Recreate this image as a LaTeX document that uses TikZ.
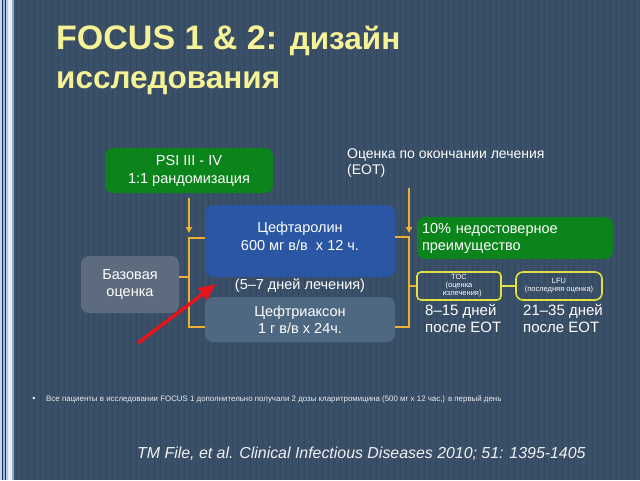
\documentclass[tikz,border=0pt]{standalone}
\usepackage{fontspec}
\setmainfont{Liberation Sans}
\usetikzlibrary{arrows.meta}
\definecolor{bg}{RGB}{58,79,104}
\definecolor{stripe}{RGB}{40,58,80}
\definecolor{ttl}{RGB}{246,242,150}
\definecolor{grn}{RGB}{12,132,28}
\definecolor{blu}{RGB}{42,86,164}
\definecolor{gry}{RGB}{92,108,126}
\definecolor{slt}{RGB}{78,104,130}
\definecolor{org}{RGB}{236,176,52}
\definecolor{ylw}{RGB}{226,226,64}
\definecolor{redarr}{RGB}{230,20,28}
\definecolor{bA}{RGB}{200,212,232}
\definecolor{bB}{RGB}{26,48,96}
\definecolor{bC}{RGB}{160,184,224}
\definecolor{bD}{RGB}{40,50,70}
\definecolor{bE}{RGB}{190,205,230}
\definecolor{bF}{RGB}{232,238,246}
\definecolor{bG}{RGB}{150,168,196}
\tikzset{
  box/.style={rounded corners=8pt, minimum width=#1, text=white, align=center, inner sep=0pt},
  txt/.style={text=white, inner sep=0pt},
  brk/.style={draw=org, line width=1.6pt},
  brkarr/.style={brk, -{Triangle[width=6pt,length=6pt]}},
  outl/.style={draw=ylw, line width=1.6pt, rounded corners=4pt, text=white, align=center, inner sep=0pt, font=\fontsize{7.5}{8}\selectfont},
}
\newcommand{\cyrsz}{\fontsize{31.5}{40}\selectfont}
\begin{document}
\begin{tikzpicture}[x=1pt,y=-1pt]
\useasboundingbox (0,0) rectangle (640,480);
\fill[bg] (0,0) rectangle (640,480);
\foreach \x in {16,22,...,640} \draw[stripe, opacity=0.35, line width=1pt] (\x,0) -- (\x,480);
% left border
\fill[bA] (0,0) rectangle (2,480);
\fill[bB] (2,0) rectangle (3,480);
\fill[bC] (3,0) rectangle (5,480);
\fill[bD] (5,0) rectangle (6,480);
\fill[bE] (6,0) rectangle (8,480);
\fill[bF] (8,0) rectangle (12,480);
\fill[bG] (12,0) rectangle (14,480);
% title
\node[anchor=base west, inner sep=0pt, text=ttl, font=\fontsize{34}{40}\bfseries\selectfont] (t1) at (56,49) {FOCUS 1 \& 2: {\cyrsz дизайн}};
\node[anchor=base west, inner sep=0pt, text=ttl, font=\fontsize{31.5}{40}\bfseries\selectfont] (t2) at (56,88) {исследования};
% boxes
\node[box=168pt, minimum height=45pt, fill=grn, font=\fontsize{14.5}{18}\selectfont] (psi) at (189,170.5) {PSI III - IV\\1:1 рандомизация};
\node[box=190pt, minimum height=72pt, fill=blu] (cef) at (300,241) {};
\node[txt, align=center, font=\fontsize{14.5}{18}\selectfont] (ceft) at (300,236) {Цефтаролин\\600 мг в/в \ х 12 ч.};
\node[box=98pt, minimum height=57pt, fill=gry, font=\fontsize{14.5}{17}\selectfont] (base) at (130,284.5) {Базовая\\оценка};
\node[txt, font=\fontsize{14.5}{18}\selectfont] (days) at (300,286) {(5–7 дней лечения)};
\node[box=190pt, minimum height=45pt, fill=slt, font=\fontsize{14.5}{17}\selectfont] (cftx) at (300,319.5) {Цефтриаксон\\1 г в/в х 24ч.};
\node[txt, anchor=north west, align=left, font=\fontsize{14}{16}\selectfont] (eot) at (347,149) {Оценка по окончании лечения\\(EOT)};
\node[box=196pt, minimum height=42pt, fill=grn, text width=186pt, align=left, font=\fontsize{14.5}{17}\selectfont] (ni) at (515,238) {10\% недостоверное\\преимущество};
\node[outl, minimum width=84pt, minimum height=28pt] (toc) at (459,286) {TOC\\(оценка\\\ \ \ излечения)};
\node[outl, minimum width=86pt, minimum height=28pt, rounded corners=7pt] (lfu) at (559,286) {LFU\\(последняя оценка)};
\node[txt, anchor=north west, align=left, font=\fontsize{15}{17.5}\selectfont] (d1) at (425,304) {8–15 дней\\после EOT};
\node[txt, anchor=north west, align=left, font=\fontsize{15}{17.5}\selectfont] (d2) at (523,304) {21–35 дней\\после EOT};
% left bracket
\coordinate (lb) at (189,0);
\draw[brkarr] (psi.south -| lb) ++(0,5) -- (189,233);
\draw[brk] (cef.west |- 0,238) -- (189,238) -- (189,327) -- (cftx.west |- 0,327);
\draw[brk] (base.east |- 0,277) -- (189,277);
% right bracket
\draw[brkarr] (409,188) -- (409,233);
\draw[brk] (cef.east |- 0,237) -- (409,237) -- (409,327) -- (cftx.east |- 0,327);
\draw[brk] (409,286) -- (toc.west);
\draw[draw=ylw, line width=1.6pt] (toc.east) -- (lfu.west);
% red arrow
\coordinate (rs) at (138,343);
\draw[redarr, line width=3.5pt, -{Triangle[width=14pt,length=17pt]}] (rs) -- (216,284);
% footnote
\node[txt, font=\fontsize{9}{10}\selectfont, text=white!90!bg] (bul) at (34,399) {•};
\node[txt, anchor=west, font=\fontsize{7.9}{9}\selectfont, text=white!90!bg] (note) at (46,399) {Все пациенты в исследовании FOCUS 1 дополнительно получали 2 дозы кларитромицина (500 мг х 12 час.) в первый день};
\node[txt, anchor=west, font=\fontsize{15.9}{20}\itshape\selectfont, text=white!92!bg] (cite) at (137,454) {TM File, et al. Clinical Infectious Diseases 2010; 51: 1395-1405};
\end{tikzpicture}
\end{document}
